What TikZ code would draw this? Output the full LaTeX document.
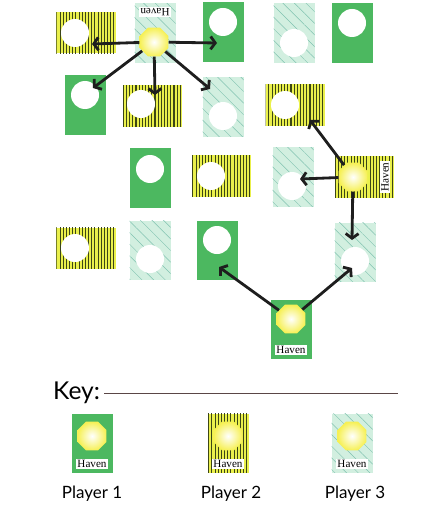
\documentclass[tikz,border=0pt]{standalone}
\usepackage{fontspec}
\setmainfont{Lato}
\newfontfamily\havenfont{Liberation Serif}
\usetikzlibrary{shapes.geometric,patterns.meta,arrows.meta}

\definecolor{pgreen}{RGB}{76,184,96}
\definecolor{pyellow}{RGB}{234,240,76}
\definecolor{pstripe}{RGB}{60,70,22}
\definecolor{pmint}{RGB}{210,239,224}
\definecolor{pteal}{RGB}{128,194,176}
\definecolor{suny}{RGB}{246,240,84}
\definecolor{arrgray}{RGB}{30,30,30}
\definecolor{linegray}{RGB}{90,70,70}

\tikzset{
  tile/.style={inner sep=0, minimum width=1.23cm, minimum height=1.77cm},
  wide/.style={minimum width=1.77cm, minimum height=1.23cm},
  p1/.style={tile, fill=pgreen},
  p2/.style={tile, fill=pyellow, postaction={pattern={Lines[angle=90,distance=2.7pt,line width=0.9pt]}, pattern color=pstripe}},
  p3/.style={tile, fill=pmint, postaction={pattern={Lines[angle=-45,distance=7pt,line width=0.4pt]}, pattern color=pteal}},
  hole/.style={circle, fill=white, inner sep=0, minimum size=0.84cm},
  sun/.style={regular polygon, regular polygon sides=8, inner sep=0, minimum size=0.94cm, inner color=white, outer color=suny},
  haven/.style={fill=white, inner sep=1pt, font=\havenfont\fontsize{9.5}{10}\selectfont},
  arr/.style={draw=arrgray, line width=2.4pt, -{Straight Barb[length=4pt,width=11pt]}},
  player/.style={font=\fontsize{14.5}{16}\selectfont},
}

\begin{document}
\begin{tikzpicture}[x=0.03cm, y=-0.03cm]
\useasboundingbox (0,0) rectangle (429,509);

\node[p2, wide] (tA) at (86,33) {};
\node[hole] (hA) at (75,33) {};
\node[p3] (tB) at (155,33) {};
\node[haven, rotate=180] (lB) at (155,12) {Haven};
\node[p1] (tC) at (223,32) {};
\node[hole] (hC) at (223,22) {};
\node[p3] (tD) at (294,33) {};
\node[hole] (hD) at (294,43) {};
\node[p1] (tE) at (352,33) {};
\node[hole] (hE) at (352,23) {};

\node[p1] (tF) at (85,105) {};
\node[hole] (hF) at (85,95) {};
\node[p2, wide] (tG) at (152,106) {};
\node[hole] (hG) at (141,104) {};
\node[p3] (tH) at (223,107) {};
\node[hole] (hH) at (223,116) {};
\node[p2, wide] (tI) at (295,105) {};
\node[hole] (hI) at (285,105) {};

\node[p1] (tJ) at (150,178) {};
\node[hole] (hJ) at (150,169) {};
\node[p2, wide] (tK) at (221,176) {};
\node[hole] (hK) at (211,176) {};
\node[p3] (tL) at (293,177) {};
\node[hole] (hL) at (292,186) {};
\node[p2, wide] (tM) at (364,177) {};
\node[haven, rotate=90] (lM) at (385,177) {Haven};

\node[p2, wide] (tN) at (86,248) {};
\node[hole] (hN) at (75,248) {};
\node[p3] (tO) at (150,250) {};
\node[hole] (hO) at (150,259) {};
\node[p1] (tP) at (217,250) {};
\node[hole] (hP) at (217,240) {};
\node[p3] (tQ) at (355,252) {};
\node[hole] (hQ) at (355,261) {};

\node[p1] (tR) at (291,329) {};
\node[haven] (lR) at (291,350) {Haven};

\node[sun] (sB) at (154,42) {};
\node[sun] (sM) at (353,177) {};
\node[sun] (sR) at (291,319) {};

\path[arr] (sB) -- ([shift={(17,11)}]hA.center);
\path[arr] (sB) -- ([shift={(-6,21)}]hC.center);
\path[arr] (sB) -- ([shift={(8,-7)}]hF.center);
\path[arr] (sB) -- ([shift={(14,-9)}]hG.center);
\path[arr] (sB) -- ([shift={(-13,-27)}]hH.center);
\path[arr] (sM) -- ([shift={(25,15)}]hI.center);
\path[arr] (sM) -- ([shift={(8,-7)}]hL.center);
\path[arr] (sM) -- ([shift={(-3,-21)}]hQ.center);
\path[arr] (sR) -- ([shift={(2,27)}]hP.center);
\path[arr] (sR) -- ([shift={(-3,7)}]hQ.center);

\node[anchor=west, font=\fontsize{21}{23}\selectfont] (key) at (49,393) {Key:};
\coordinate (keyend) at (398,395);
\draw[linegray, line width=0.6pt] (key.east) -- (key.east -| keyend);

\node[p1] (k1) at (92,443) {};
\node[sun] (ks1) at (92,436) {};
\node[haven] (kl1) at (92,464) {Haven};
\node[p2] (k2) at (228,443) {};
\node[sun] (ks2) at (228,436) {};
\node[haven] (kl2) at (228,464) {Haven};
\node[p3] (k3) at (352,443) {};
\node[sun] (ks3) at (352,436) {};
\node[haven] (kl3) at (352,464) {Haven};

\node[player] (pl1) at (92,494) {Player 1};
\node[player] (pl2) at (231,494) {Player 2};
\node[player] (pl3) at (355,494) {Player 3};
\end{tikzpicture}
\end{document}
